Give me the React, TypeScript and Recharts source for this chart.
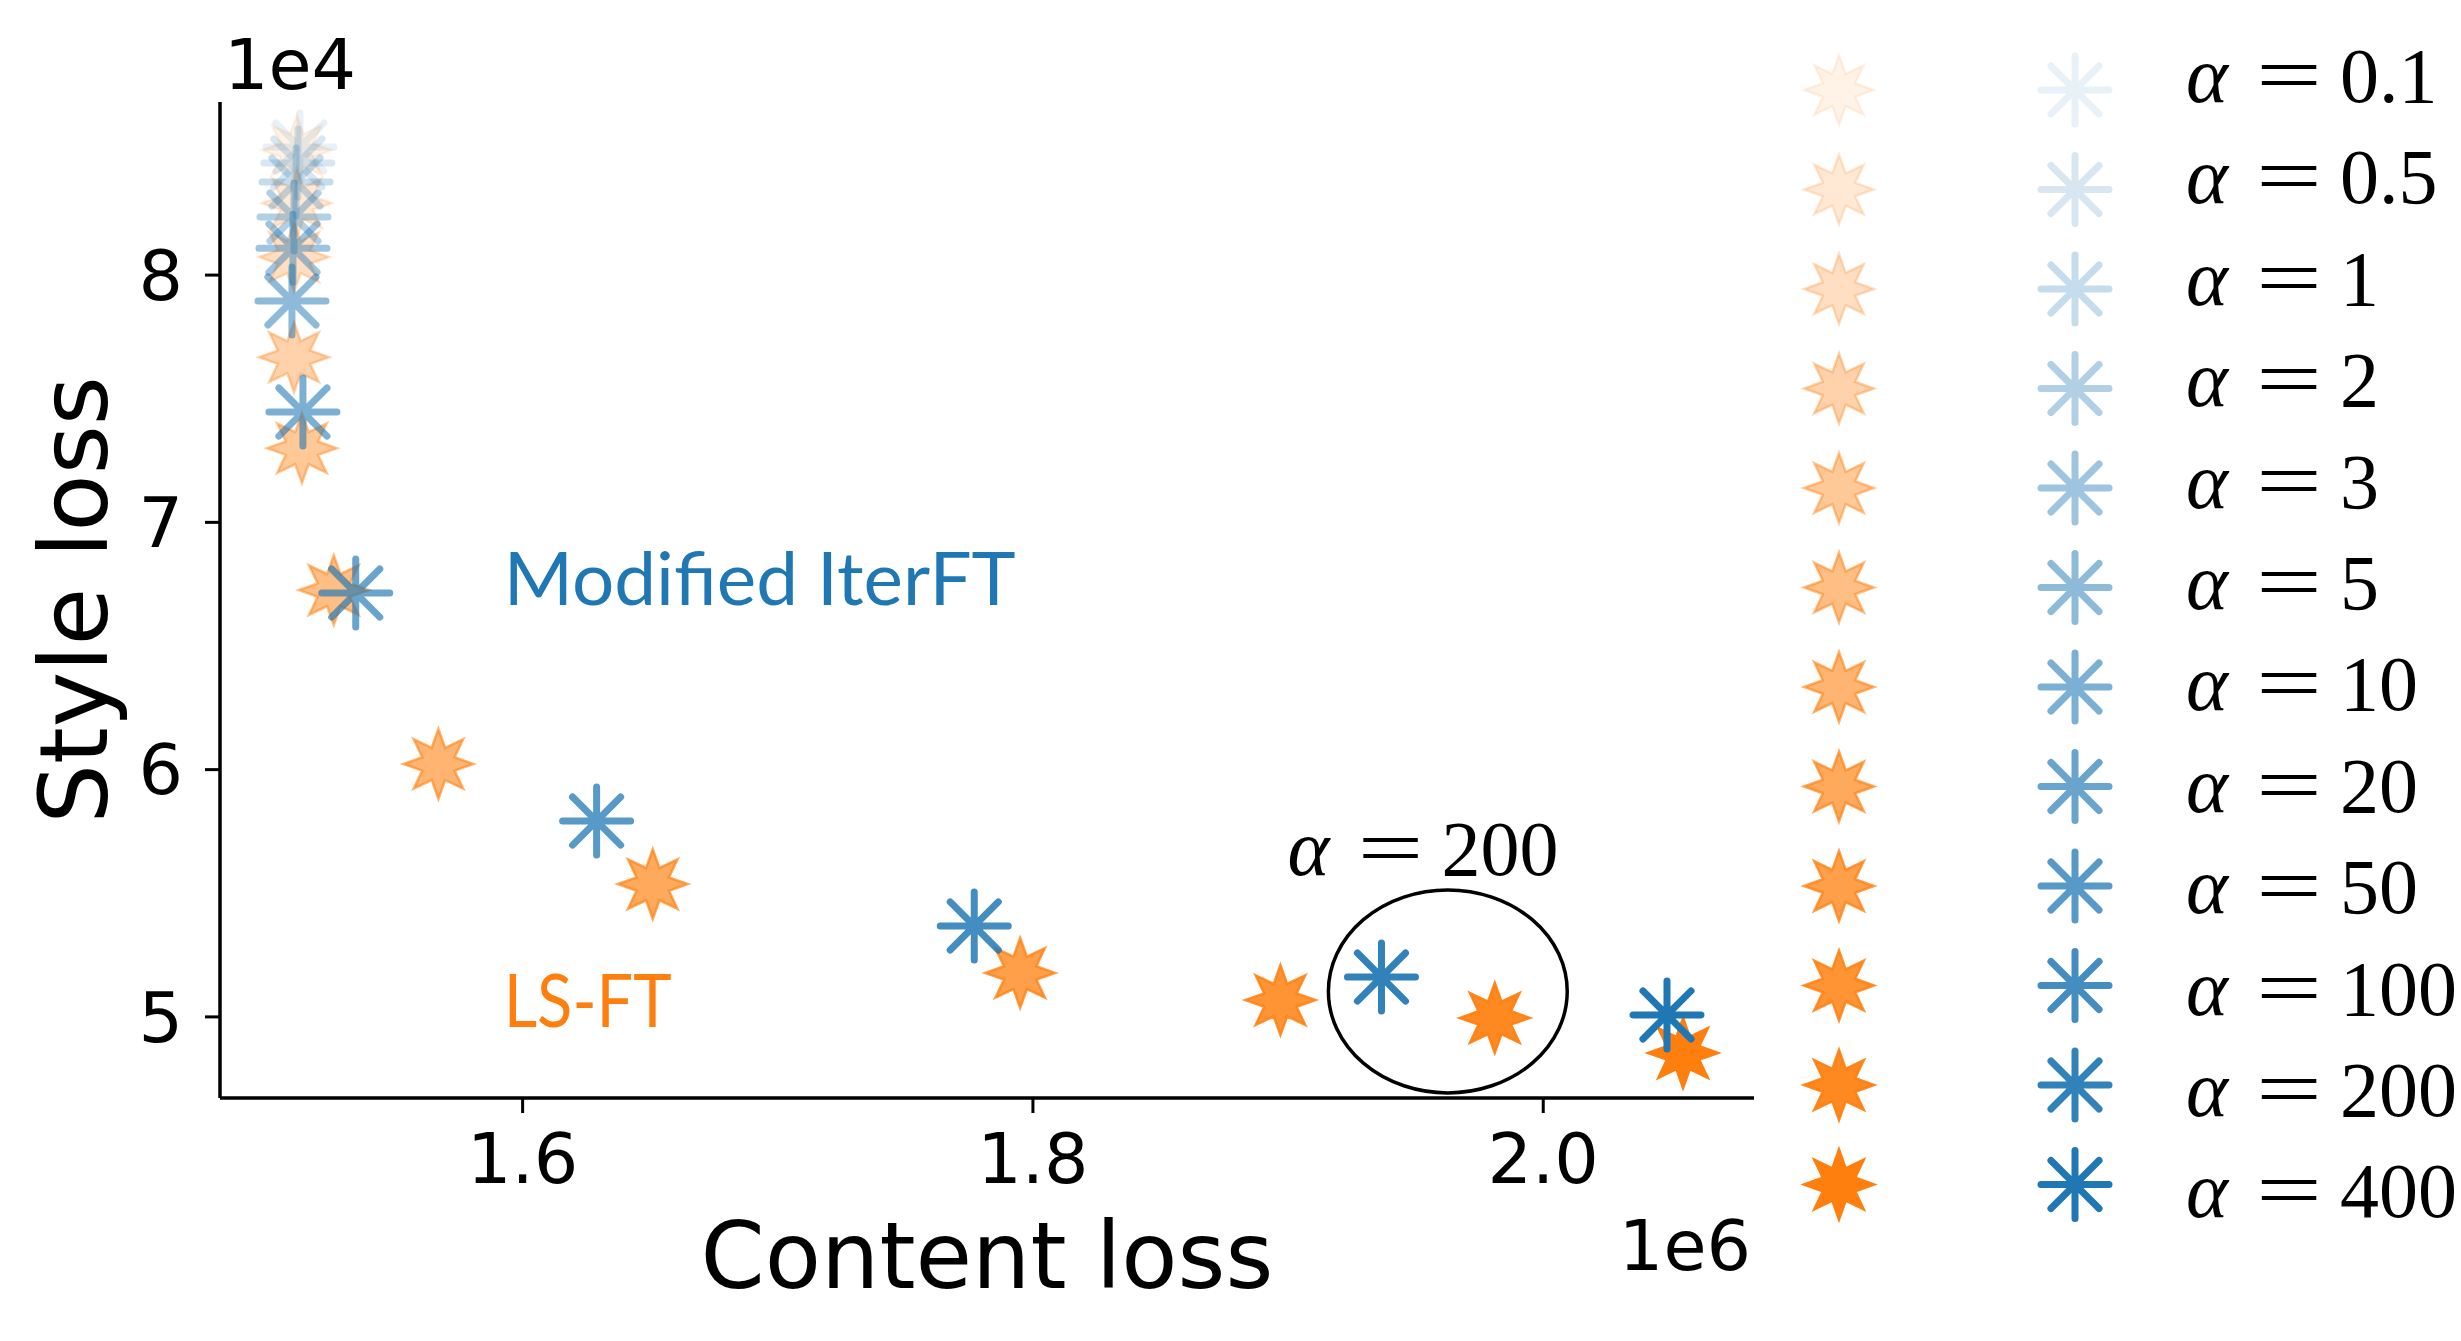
import React from 'react';
import { ScatterChart, Scatter, XAxis, YAxis, ReferenceArea, ReferenceDot, Legend } from 'recharts';

// ---------- data (content loss in 1e6, style loss in 1e4) ----------
const alphaLabels = ['0.1', '0.5', '1', '2', '3', '5', '10', '20', '50', '100', '200', '400'];
const markerOpacity = [0.1, 0.18, 0.26, 0.35, 0.43, 0.51, 0.59, 0.67, 0.75, 0.84, 0.92, 1.0];

const lsftContent = [1.5115, 1.5115, 1.5104, 1.5104, 1.5135, 1.526, 1.567, 1.651, 1.795, 1.897, 1.981, 2.0548];
const lsftStyle = [8.505, 8.291, 8.073, 7.668, 7.3, 6.726, 6.023, 5.537, 5.178, 5.068, 4.996, 4.854];

const iterContent = [1.5127, 1.5119, 1.5112, 1.5104, 1.51, 1.5096, 1.5139, 1.5346, 1.629, 1.777, 1.9366, 2.0485];
const iterStyle = [8.518, 8.453, 8.376, 8.235, 8.109, 7.895, 7.446, 6.714, 5.792, 5.368, 5.161, 5.008];

const xTicks = [1.6, 1.8, 2.0];
const yTicks = [5, 6, 7, 8];
const xDomain = [1.4814, 2.0826];
const yDomain = [4.672, 8.7];

const circledAlpha = '200';
const ellipseBox = { x1: 1.9158, x2: 2.0094, y1: 4.6926, y2: 5.5134 };
const annotationPos = { x: 1.8998, y: 5.574 };
const methodNames = ['Modified IterFT', 'LS-FT'];
const methodLabelX = [1.5926, 1.5926];
const methodLabelY = [6.666, 4.959];

const ORANGE = '#ff7f0e';
const BLUE = '#1f77b4';

const lsftData = alphaLabels.map((a, i) => ({ alpha: a, x: lsftContent[i], y: lsftStyle[i], op: markerOpacity[i] }));
const iterData = alphaLabels.map((a, i) => ({ alpha: a, x: iterContent[i], y: iterStyle[i], op: markerOpacity[i] }));

// ---------- marker shapes ----------
function starPath(cx: number, cy: number, R: number, r: number) {
  let d = '';
  for (let k = 0; k < 16; k++) {
    const ang = -Math.PI / 2 + (k * Math.PI) / 8;
    const rad = k % 2 === 0 ? R : r;
    d += (k === 0 ? 'M' : 'L') + (cx + rad * Math.cos(ang)).toFixed(2) + ',' + (cy + rad * Math.sin(ang)).toFixed(2);
  }
  return d + 'Z';
}

function asteriskPath(cx: number, cy: number, R: number) {
  let d = '';
  for (let k = 0; k < 4; k++) {
    const ang = (k * Math.PI) / 4;
    const dx = R * Math.cos(ang);
    const dy = R * Math.sin(ang);
    d += `M${(cx - dx).toFixed(2)},${(cy - dy).toFixed(2)}L${(cx + dx).toFixed(2)},${(cy + dy).toFixed(2)}`;
  }
  return d;
}

const StarMarker = ({ cx, cy, op }: any) => (
  <path
    d={starPath(cx, cy, 35, 17.5)}
    fill={ORANGE}
    fillOpacity={op}
    stroke={ORANGE}
    strokeOpacity={op}
    strokeWidth={2.5}
    strokeLinejoin="miter"
  />
);

const AsteriskMarker = ({ cx, cy, op }: any) => (
  <path d={asteriskPath(cx, cy, 34)} fill="none" stroke={BLUE} strokeOpacity={op} strokeWidth={7} strokeLinecap="round" />
);

const AlphaEq = ({ x, y, value }: any) => (
  <g fontFamily="'Liberation Serif', 'DejaVu Serif', serif" fontSize={80} fill="#000">
    <text x={x} y={y} fontStyle="italic">α</text>
    <text x={x + 70} y={y} textLength={66} lengthAdjust="spacingAndGlyphs">=</text>
    <text x={x + 154} y={y} fontSize={78}>{value}</text>
  </g>
);

// ---------- legend ----------
const renderLegend = () => (
  <svg width={671} height={1341} style={{ display: 'block' }}>
    {alphaLabels.map((a, i) => {
      const my = 90 + 99.5 * i;
      const ty = 102 + 101.4 * i;
      return (
        <g key={a}>
          <StarMarker cx={49} cy={my} op={markerOpacity[i]} />
          <AsteriskMarker cx={285} cy={my} op={markerOpacity[i]} />
          <AlphaEq x={396} y={ty} value={a} />
        </g>
      );
    })}
  </svg>
);

// ---------- axis labels ----------
const yAxisLabel = (props: any) => {
  const vb = props && props.viewBox ? props.viewBox : { x: 0, y: 102, width: 220, height: 996 };
  const bx = vb.x + 107;
  const cy = vb.y + vb.height / 2;
  return (
    <g>
      <text x={bx} y={cy} transform={`rotate(-90 ${bx} ${cy})`} textAnchor="middle" fontSize={94} fontFamily="'DejaVu Sans', sans-serif" fill="#000">
        Style loss
      </text>
      <text x={vb.x + vb.width + 4} y={vb.y - 13} fontSize={70} fontFamily="'DejaVu Sans', sans-serif" fill="#000">
        1e4
      </text>
    </g>
  );
};

const xAxisLabel = (props: any) => {
  const vb = props && props.viewBox ? props.viewBox : { x: 220, y: 1098, width: 1534, height: 243 };
  return (
    <g>
      <text x={vb.x + vb.width / 2} y={vb.y + 190} textAnchor="middle" fontSize={92} fontFamily="'DejaVu Sans', sans-serif" fill="#000">
        Content loss
      </text>
      <text x={vb.x + vb.width - 3} y={vb.y + 172} textAnchor="end" fontSize={70} fontFamily="'DejaVu Sans', sans-serif" fill="#000">
        1e6
      </text>
    </g>
  );
};

const tickStyle = { fill: '#000', fontSize: 70, fontFamily: "'DejaVu Sans', sans-serif" };

export default function App() {
  return (
    <div style={{ position: 'absolute', left: 0, top: 0, width: 2461, height: 1341, background: '#fff' }}>
      <ScatterChart width={2461} height={1341} margin={{ top: 102, right: 707, bottom: 0, left: 0 }}>
        <XAxis
          type="number"
          dataKey="x"
          domain={xDomain}
          allowDataOverflow
          ticks={xTicks}
          interval={0}
          tickFormatter={(v: number) => v.toFixed(1)}
          height={243}
          tickSize={15}
          tickMargin={20}
          tick={tickStyle}
          axisLine={{ stroke: '#000', strokeWidth: 3.5 }}
          tickLine={{ stroke: '#000', strokeWidth: 3 }}
          label={xAxisLabel}
        />
        <YAxis
          type="number"
          dataKey="y"
          domain={yDomain}
          allowDataOverflow
          ticks={yTicks}
          interval={0}
          width={220}
          tickSize={15}
          tickMargin={22}
          tick={tickStyle}
          axisLine={{ stroke: '#000', strokeWidth: 3.5 }}
          tickLine={{ stroke: '#000', strokeWidth: 3 }}
          label={yAxisLabel}
        />
        <ReferenceArea
          x1={ellipseBox.x1}
          x2={ellipseBox.x2}
          y1={ellipseBox.y1}
          y2={ellipseBox.y2}
          ifOverflow="visible"
          shape={(p: any) => (
            <ellipse cx={p.x + p.width / 2} cy={p.y + p.height / 2} rx={Math.abs(p.width) / 2} ry={Math.abs(p.height) / 2} fill="none" stroke="#000" strokeWidth={3.5} />
          )}
        />
        <Scatter
          name="LS-FT"
          data={lsftData}
          isAnimationActive={false}
          shape={(p: any) => <StarMarker cx={p.cx} cy={p.cy} op={p.payload.op} />}
        />
        <Scatter
          name="Modified IterFT"
          data={iterData}
          isAnimationActive={false}
          shape={(p: any) => <AsteriskMarker cx={p.cx} cy={p.cy} op={p.payload.op} />}
        />
        <ReferenceDot
          x={annotationPos.x}
          y={annotationPos.y}
          ifOverflow="visible"
          shape={(p: any) => <AlphaEq x={p.cx} y={p.cy} value={circledAlpha} />}
        />
        {methodNames.map((name, i) => (
          <ReferenceDot
            key={name}
            x={methodLabelX[i]}
            y={methodLabelY[i]}
            ifOverflow="visible"
            shape={(p: any) => (
              <text x={p.cx} y={p.cy} fontSize={74} fontFamily="Lato, 'Open Sans', sans-serif" fill={i === 0 ? BLUE : ORANGE} textLength={i === 0 ? 512 : 168} lengthAdjust="spacingAndGlyphs">
                {name}
              </text>
            )}
          />
        ))}
        <Legend
          layout="vertical"
          align="center"
          verticalAlign="middle"
          width={671}
          height={1341}
          wrapperStyle={{ left: 1790, top: 0, width: 671, height: 1341 }}
          content={renderLegend}
        />
      </ScatterChart>
    </div>
  );
}
